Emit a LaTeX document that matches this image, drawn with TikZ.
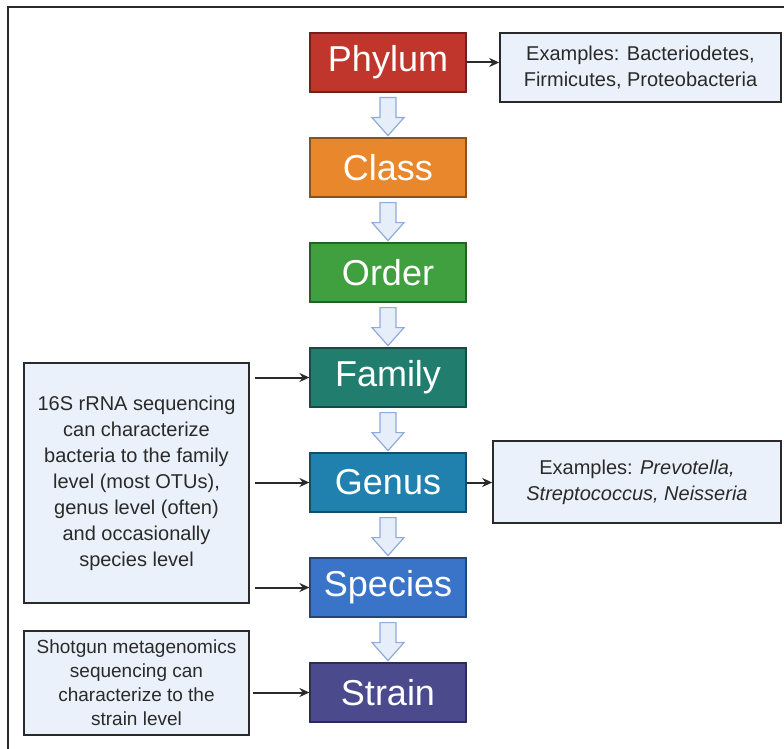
\documentclass[tikz,border=0pt]{standalone}
\usepackage{fontspec}
\setmainfont{Liberation Sans}
\usetikzlibrary{arrows.meta,calc}

\definecolor{phylumred}{HTML}{C0362C}
\definecolor{classorange}{HTML}{E8872C}
\definecolor{ordergreen}{HTML}{40A040}
\definecolor{familyteal}{HTML}{217D6E}
\definecolor{genusblue}{HTML}{2080AE}
\definecolor{speciesblue}{HTML}{3A74C8}
\definecolor{strainpurple}{HTML}{4B4A8C}
\definecolor{notefill}{HTML}{EAF1FA}
\definecolor{arrowfill}{HTML}{E6EEF9}
\definecolor{arrowline}{HTML}{8FAADC}
\definecolor{textgray}{HTML}{2A2A2A}

\tikzset{
  taxon/.style={draw=#1!60!black, fill=#1, text=white, line width=1.2pt,
    minimum width=156pt, minimum height=59pt, inner sep=0pt,
    font=\fontsize{36}{42}\selectfont},
  note/.style={draw=textgray, fill=notefill, line width=1.6pt, text=textgray,
    align=center, inner sep=0pt, font=\fontsize{20}{26}\selectfont},
  openarrow/.style={draw=arrowline, fill=arrowfill, line width=1.2pt, line join=miter},
  link/.style={draw=textgray, line width=2pt, -{Stealth[length=10pt,width=9pt]}}
}

\begin{document}
\begin{tikzpicture}[x=1pt,y=-1pt]
\useasboundingbox (0,0) rectangle (784,749);
\draw[line width=1.2pt, textgray] (8,749) -- (8,7) -- (784,7);

\node[taxon=phylumred] (phylum) at (388,62.5) {Phylum};
\node[taxon=classorange] (class) at (388,167.5) {Class};
\node[taxon=ordergreen] (order) at (388,272.5) {Order};
\node[taxon=familyteal] (family) at (388,377.5) {Family};
\node[taxon=genusblue] (genus) at (388,482.5) {Genus};
\node[taxon=speciesblue] (species) at (388,587.5) {Species};
\node[taxon=strainpurple] (strain) at (388,692.5) {Strain};

% hollow arrows down the ranks
\foreach \a in {phylum,class,order,family,genus,species}
  \draw[openarrow] ($(\a.south)+(-8,5)$) -- ($(\a.south)+(8,5)$) -- ($(\a.south)+(8,25)$)
    -- ($(\a.south)+(16,25)$) -- ($(\a.south)+(0,43)$) -- ($(\a.south)+(-16,25)$)
    -- ($(\a.south)+(-8,25)$) -- cycle;

\node[note, minimum width=281pt, minimum height=69pt] (phylumex) at (640.5,67.5)
  {Examples: Bacteriodetes,\\Firmicutes, Proteobacteria};
\node[note, minimum width=288pt, minimum height=82pt] (genusex) at (637,482)
  {Examples: \textit{Prevotella,}\\\textit{Streptococcus, Neisseria}};
\node[note, minimum width=225pt, minimum height=240pt] (rrna) at (136.5,483)
  {16S rRNA sequencing\\can characterize\\bacteria to the family\\level (most OTUs),\\genus level (often)\\and occasionally\\species level};
\node[note, minimum width=225pt, minimum height=104pt,
  font=\fontsize{19}{24}\selectfont] (shotgun) at (136.5,683)
  {Shotgun metagenomics\\sequencing can\\characterize to the\\strain level};

\draw[link] (phylum.east) -- (phylum.east -| phylumex.west);
\draw[link] (genus.east) -- (genus.east -| genusex.west);
\draw[link] ([xshift=5pt]rrna.east |- family.west) -- (family.west);
\draw[link] ([xshift=5pt]rrna.east |- genus.west) -- (genus.west);
\draw[link] ([xshift=5pt]rrna.east |- species.west) -- (species.west);
\draw[link] ([xshift=3pt]shotgun.east |- strain.west) -- (strain.west);
\end{tikzpicture}
\end{document}
